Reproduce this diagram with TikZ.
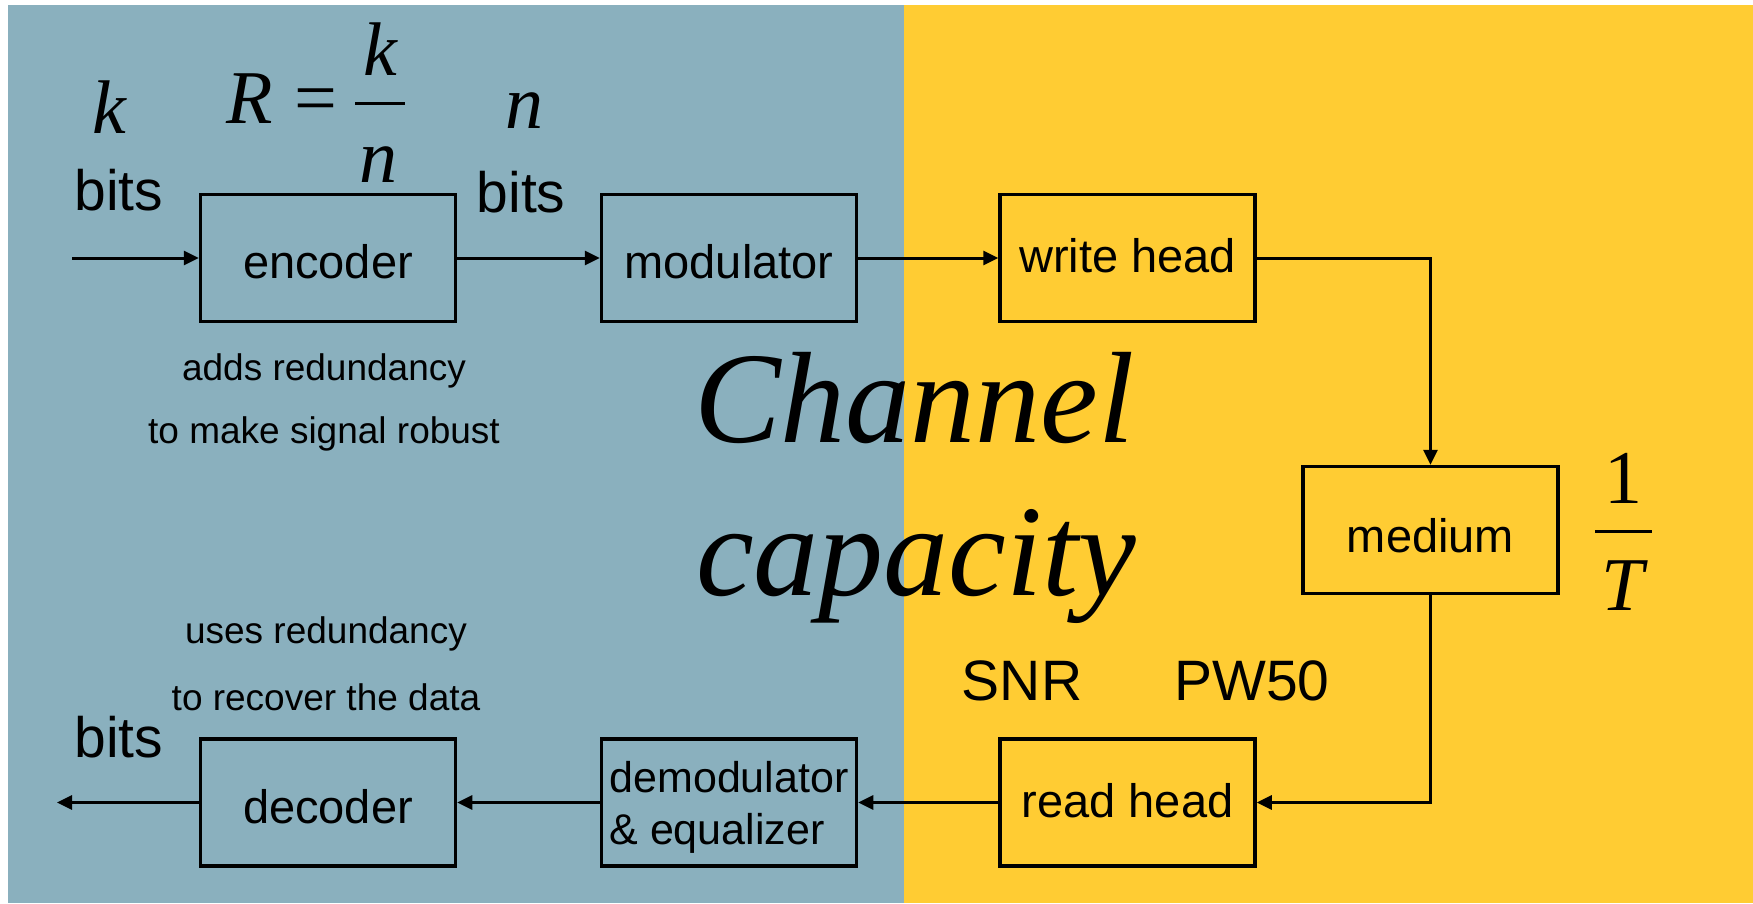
\documentclass[tikz,border=0pt]{standalone}
\usepackage{fontspec}
\setmainfont{Liberation Sans}
\newfontfamily\tms{Liberation Serif}
\usetikzlibrary{arrows.meta,calc}
\definecolor{bgblue}{RGB}{138,176,190}
\definecolor{bgyellow}{RGB}{255,204,51}
\newcommand{\fsz}[1]{\fontsize{#1}{#1}\selectfont}
\begin{document}
\begin{tikzpicture}[x=1pt,y=-1pt,
  blk/.style={draw, line width=3.5pt, minimum width=255pt, minimum height=127pt,
    inner sep=0pt, font=\fsz{47}, text depth=0pt},
  arr/.style={line width=3pt, -{Triangle[length=15pt,width=14pt]}},
  lbl/.style={inner sep=0pt, anchor=base},
  note/.style={lbl, font=\fsz{37}},
  big/.style={lbl, font=\fsz{57}},
  mth/.style={lbl, font=\tms\itshape\fsz{76}},
  mup/.style={lbl, font=\tms\fsz{76}},
  ttl/.style={inner sep=0pt, anchor=base west, font=\tms\itshape\fsz{130}}
  ]
\useasboundingbox (0,0) rectangle (1753,903);
\fill[white] (0,0) rectangle (1753,903);
\fill[bgblue] (8,5) rectangle (904,903);
\fill[bgyellow] (904,5) rectangle (1753,903);

% blocks
\node[blk, text height=40pt] (enc) at (328,258) {encoder};
\node[blk, text height=40pt] (mod) at (729,258) {modulator};
\node[blk, text height=28pt] (wh) at (1127.5,258) {write head};
\node[blk, text height=44pt] (med) at (1430.5,530) {medium};
\node[blk, text height=29pt] (rh) at (1127.5,802.5) {read head};
\node[blk, text height=41pt] (dec) at (328,802.5) {decoder};
\node[blk, font=\fontsize{43}{52}\selectfont, align=left] (dem) at (729,802.5) {demodulator\\\& equalizer};

% free ends
\coordinate (in) at (72,258);
\coordinate (out) at (57,802.5);

% connectors
\draw[arr] (in) -- (enc.west);
\draw[arr] (enc.east) -- (mod.west);
\draw[arr] (mod.east) -- (wh.west);
\draw[arr] (wh.east) -| (med.north);
\draw[arr] (med.south) |- (rh.east);
\draw[arr] (rh.west) -- (dem.east);
\draw[arr] (dem.west) -- (dec.east);
\draw[arr] (dec.west) -- (out);

% labels, top left
\node[mth] (kin) at (109,133) {k};
\node[big] (bitsin) at (119,210) {bits};
\node[mth, anchor=base west] (R) at (226,123) {R};
\node[mup] (eq) at (316,123) {=};
\node[mth] (kn) at (380,75) {k};
\draw[line width=3pt] (355,103) -- (405,103);
\node[mth] (nd) at (378,182) {n};
\node[mth] (nn) at (524,128) {n};
\node[big] (bitsn) at (521,212) {bits};

\node[note] (add1) at (324,380) {adds redundancy};
\node[note] (add2) at (324,443) {to make signal robust};
\node[note] (use1) at (326,643) {uses redundancy};
\node[note] (use2) at (326,710) {to recover the data};
\node[big] (bitsout) at (119,757) {bits};

% title
\node[ttl] (ch) at (694,442) {Channel};
\node[ttl] (cap) at (696,595) {capacity};

% right labels
\node[big] (snr) at (1022,700) {SNR};
\node[big] (pw) at (1252,700) {PW50};
\node[mup] (one) at (1623,503) {1};
\draw[line width=3pt] (1595,531) -- (1652,531);
\node[mth] (T) at (1623,610) {T};
\end{tikzpicture}
\end{document}
